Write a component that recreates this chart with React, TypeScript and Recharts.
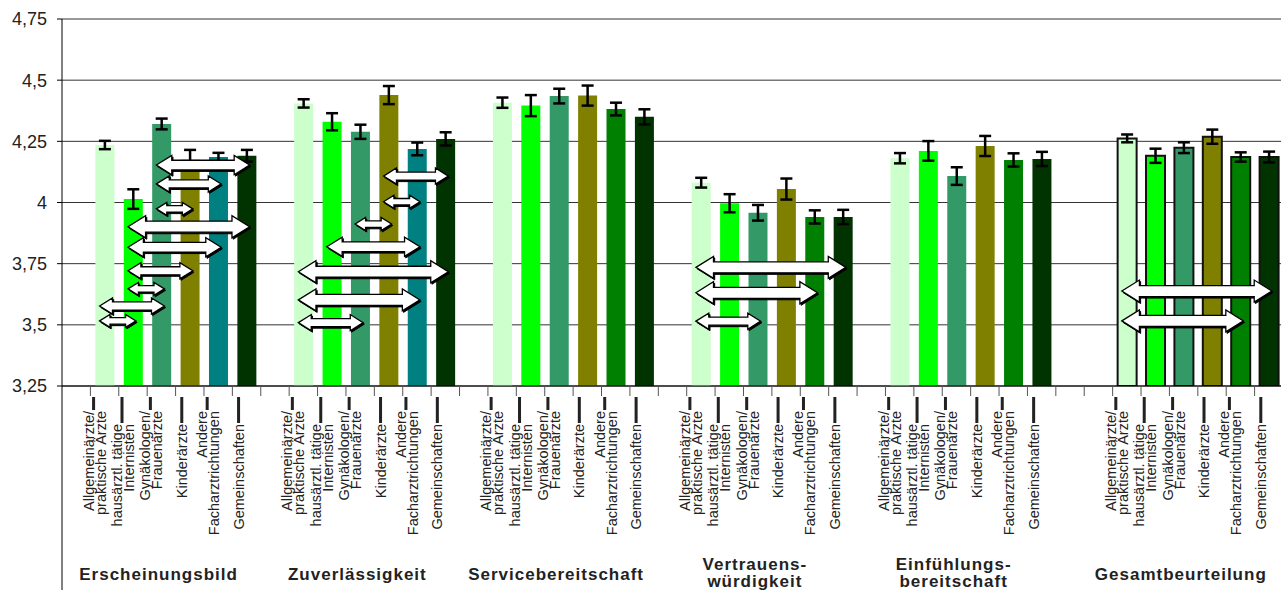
import React from 'react';
import {
  BarChart,
  Bar,
  XAxis,
  YAxis,
  CartesianGrid,
  ErrorBar,
  Cell,
  ReferenceLine
} from 'recharts';

// categories (doctor groups) and criteria groups
const categories = [
  'Allgemeinärzte/\npraktische Ärzte',
  'hausärztl. tätige\nInternisten',
  'Gynäkologen/\nFrauenärzte',
  'Kinderärzte',
  'Andere\nFacharztrichtungen',
  'Gemeinschaften'
];
const groups = [
  'Erscheinungsbild',
  'Zuverlässigkeit',
  'Servicebereitschaft',
  'Vertrauens-\nwürdigkeit',
  'Einfühlungs-\nbereitschaft',
  'Gesamtbeurteilung'
];

// mean ratings per group (one value per category)
const erscheinungsbild = [4.235, 4.014, 4.321, 4.175, 4.186, 4.191];
const zuverlaessigkeit = [4.405, 4.33, 4.289, 4.439, 4.219, 4.26];
const service = [4.408, 4.396, 4.435, 4.437, 4.382, 4.35];
const vertrauen = [4.081, 3.997, 3.958, 4.055, 3.941, 3.941];
const einfuehlung = [4.181, 4.211, 4.108, 4.231, 4.174, 4.178];
const gesamt = [4.262, 4.191, 4.224, 4.269, 4.186, 4.186];
const means = [erscheinungsbild, zuverlaessigkeit, service, vertrauen, einfuehlung, gesamt];

// +/- error per bar
const errErscheinung = [0.017, 0.04, 0.022, 0.04, 0.017, 0.024];
const errZuverl = [0.017, 0.035, 0.029, 0.037, 0.026, 0.027];
const errService = [0.021, 0.043, 0.03, 0.041, 0.026, 0.031];
const errVertrauen = [0.02, 0.037, 0.032, 0.043, 0.027, 0.029];
const errEinfuehl = [0.021, 0.04, 0.036, 0.041, 0.027, 0.029];
const errGesamt = [0.016, 0.029, 0.022, 0.029, 0.019, 0.022];
const errors = [errErscheinung, errZuverl, errService, errVertrauen, errEinfuehl, errGesamt];

// significance arrows: [from category, to category, y value]
const arrowsErscheinung: [number, number, number][] = [
  [2, 5, 4.153], [2, 4, 4.076], [2, 3, 3.974], [1, 5, 3.901], [1, 4, 3.817],
  [1, 3, 3.721], [1, 2, 3.647], [0, 2, 3.577], [0, 1, 3.516]
];
const arrowsZuverl: [number, number, number][] = [
  [3, 5, 4.108], [3, 4, 4.003], [2, 3, 3.912], [1, 4, 3.819], [0, 5, 3.717],
  [0, 4, 3.602], [0, 2, 3.509]
];
const arrowsVertrauen: [number, number, number][] = [[0, 5, 3.735], [0, 4, 3.631], [0, 2, 3.515]];
const arrowsGesamt: [number, number, number][] = [[0, 5, 3.638], [0, 4, 3.516]];
const arrows = [arrowsErscheinung, arrowsZuverl, [], arrowsVertrauen, [], arrowsGesamt];

// empty slots before each group
const gapsBefore = [1, 1, 1, 1, 1, 2];
const yTicks = [3.25, 3.5, 3.75, 4, 4.25, 4.5, 4.75];

const catColors = ['#CCFFCC', '#00FF00', '#339966', '#808000', '#008000', '#003300'];
const andereTeal = '#008080';

const FONT = '"Liberation Sans", Arial, Helvetica, sans-serif';
const WIDTH = 1283;
const HEIGHT = 590;
const LEFT = 62;
const TOP = 19;
const X_AXIS_H = 204;
const PLOT_BOTTOM = HEIGHT - X_AXIS_H;

interface Row {
  key: string;
  value: number | null;
  err?: number;
  group?: number;
  cat?: number;
}

const rows: Row[] = [];
let gapCount = 0;
groups.forEach((_, g) => {
  for (let i = 0; i < gapsBefore[g]; i++) rows.push({ key: `gap${gapCount++}`, value: null });
  categories.forEach((__, c) => {
    rows.push({ key: `g${g}c${c}`, value: means[g][c], err: errors[g][c], group: g, cat: c });
  });
});
const rowByKey = new Map(rows.map((r) => [r.key, r]));
const SLOT = (WIDTH - LEFT) / rows.length;

const fmt = (v: number) => String(v).replace('.', ',');

const labelTop = [411, 424, 411, 424, 411, 424];

const CategoryTick = (props: any) => {
  const { x, payload } = props;
  const row = rowByKey.get(payload.value);
  const half = SLOT / 2;
  const out: React.ReactNode[] = [];
  if (payload.value === rows[0].key) {
    out.push(<line key="yl" x1={x - half} y1={PLOT_BOTTOM} x2={x - half} y2={HEIGHT} stroke="#000" strokeWidth={1} />);
  } else {
    out.push(<line key="t" x1={x - half} y1={PLOT_BOTTOM} x2={x - half} y2={PLOT_BOTTOM + 10} stroke="#555" strokeWidth={1} />);
  }
  if (row && row.cat != null) {
    const lines = categories[row.cat].split('\n');
    const ax = x - 8;
    const top = labelTop[row.cat];
    const barX = lines.length > 1 ? ax - 3 : ax;
    out.push(<rect key="lb" x={barX - 1.5} y={397} width={3} height={top - 398} fill="#222" />);
    lines.forEach((ln, i) => {
      const cx = lines.length > 1 ? ax - 8 + i * 12 : ax;
      out.push(
        <text
          key={`l${i}`}
          transform={`translate(${cx}, ${top}) rotate(-90)`}
          textAnchor="end"
          dominantBaseline="central"
          fontFamily={FONT}
          fontSize={14.5}
          fill="#222"
        >
          {ln}
        </text>
      );
    });
    if (row.cat === 3 && row.group != null) {
      const gl = groups[row.group].split('\n');
      const gx = x - half - 17;
      gl.forEach((t, i) => {
        const gy = gl.length > 1 ? 564 + i * 17 : 574;
        out.push(
          <text
            key={`g${i}`}
            x={gx}
            y={gy}
            textAnchor="middle"
            dominantBaseline="central"
            fontFamily={FONT}
            fontWeight="bold"
            fontSize={17}
            letterSpacing={1}
            fill="#222"
          >
            {t}
          </text>
        );
      });
    }
  }
  return <g>{out}</g>;
};

const DoubleArrow = (props: any) => {
  const { x1, x2, y1 } = props;
  if (x1 == null || x2 == null || y1 == null) return null;
  const l = Math.min(x1, x2) - 5;
  const r = Math.max(x1, x2) + 3;
  const len = r - l;
  const hh = Math.min(11, 4.5 + len * 0.055);
  const sh = hh * 0.5;
  const hl = hh * 1.6;
  const y = y1;
  const pts = [
    [l, y], [l + hl, y - hh], [l + hl, y - sh], [r - hl, y - sh], [r - hl, y - hh],
    [r, y], [r - hl, y + hh], [r - hl, y + sh], [l + hl, y + sh], [l + hl, y + hh]
  ];
  const p = pts.map((q) => q.join(',')).join(' ');
  const ps = pts.map((q) => `${q[0] + 1.2},${q[1] + 1.5}`).join(' ');
  return (
    <g>
      <polygon points={ps} fill="#000" stroke="#000" strokeWidth={1} />
      <polygon points={p} fill="#fff" stroke="#000" strokeWidth={1.3} />
    </g>
  );
};

const App: React.FC = () => {
  return (
    <div style={{ position: 'absolute', left: 0, top: 0, width: 1281, height: HEIGHT, overflow: 'hidden', background: '#fff' }}>
      <BarChart
        width={WIDTH}
        height={HEIGHT}
        data={rows}
        margin={{ top: TOP, right: 0, left: 0, bottom: 0 }}
      >
        <CartesianGrid horizontal vertical={false} stroke="#333" strokeWidth={1} />
        <XAxis
          dataKey="key"
          interval={0}
          tickLine={false}
          axisLine={{ stroke: '#000' }}
          height={X_AXIS_H}
          tick={<CategoryTick />}
        />
        <YAxis
          width={LEFT}
          domain={[3.25, 4.75]}
          ticks={yTicks}
          allowDataOverflow
          tickFormatter={fmt}
          tickSize={5}
          tickMargin={10}
          axisLine={{ stroke: '#000' }}
          tickLine={{ stroke: '#000' }}
          tick={{ fontFamily: FONT, fontSize: 18, fill: '#222' }}
        />
        <Bar dataKey="value" barSize={19} isAnimationActive={false}>
          {rows.map((r) => {
            const cat = r.cat ?? 0;
            const fill = cat === 4 && (r.group === 0 || r.group === 1) ? andereTeal : catColors[cat];
            const outlined = r.group === 5;
            return (
              <Cell
                key={r.key}
                fill={fill}
                stroke={outlined ? '#111' : 'none'}
                strokeWidth={outlined ? 2 : 0}
              />
            );
          })}
          <ErrorBar dataKey="err" width={6} stroke="#000" strokeWidth={2.5} isAnimationActive={false} />
        </Bar>
        {arrows.flatMap((list, g) =>
          list.map(([from, to, y], i) => (
            <ReferenceLine
              key={`a${g}-${i}`}
              segment={[
                { x: `g${g}c${from}`, y },
                { x: `g${g}c${to}`, y }
              ]}
              shape={DoubleArrow}
            />
          ))
        )}
      </BarChart>
    </div>
  );
};

export default App;
